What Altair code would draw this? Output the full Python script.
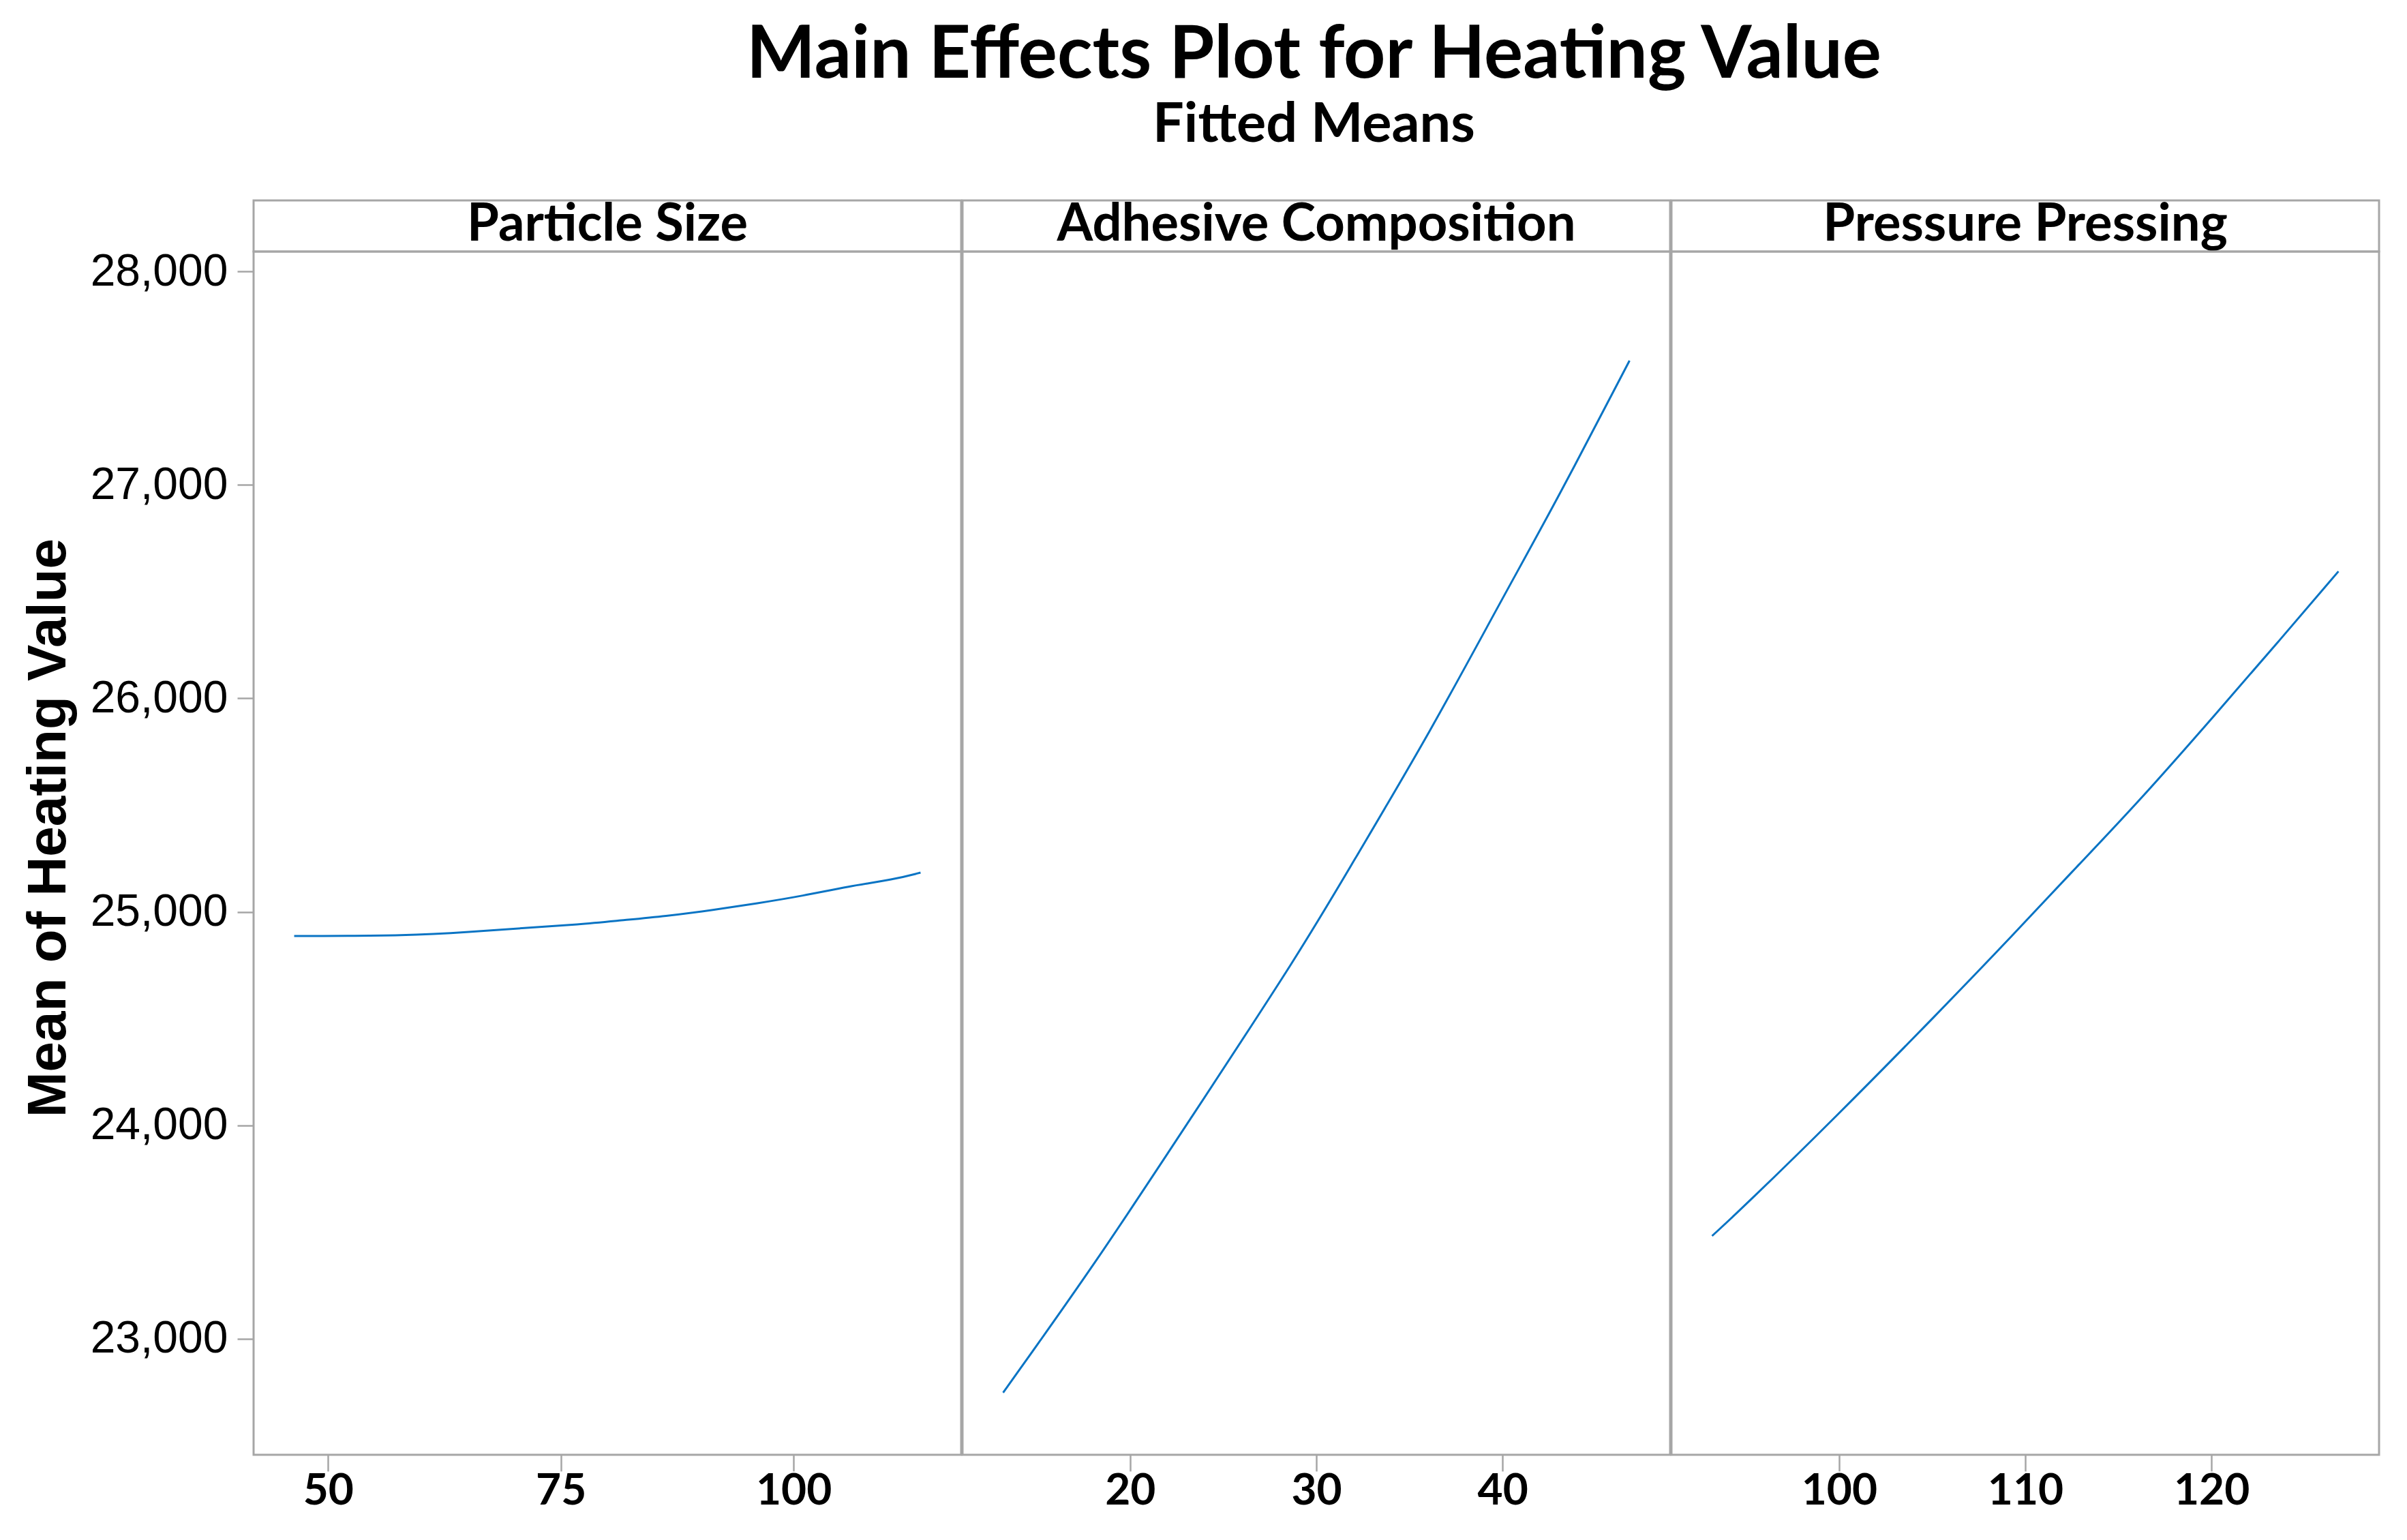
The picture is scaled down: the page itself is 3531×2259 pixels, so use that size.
import altair as alt
import pandas as pd

# ---- data ----
factors = ["Particle Size", "Adhesive Composition", "Pressure Pressing"]

particle_x = [46.36, 58.8, 65.2, 71.1, 77.0, 81.4, 86.3, 91.2, 96.1, 101.0, 105.9, 110.8, 113.64]
particle_y = [24887, 24888, 24906, 24925, 24941, 24960, 24980, 25008, 25040, 25075, 25120, 25152, 25184]

adhesive_x = [13.18, 18.22, 22.97, 29.17, 32.09, 36.1, 40.0, 42.9, 46.82]
adhesive_y = [22748, 23364, 23995, 24817, 25251, 25840, 26470, 26925, 27582]

pressure_x = [93.18, 94.97, 99.7, 105.43, 109.4, 112.4, 116.1, 120.37, 123.6, 126.82]
pressure_y = [23482, 23626, 24028, 24536, 24897, 25178, 25516, 25941, 26266, 26595]

x_domains = [[42, 118], [11, 49], [91, 129]]
x_ticks = [[50, 75, 100], [20, 30, 40], [100, 110, 120]]
y_ticks = [23000, 24000, 25000, 26000, 27000, 28000]
y_domain = [22457, 28093]

series = [(particle_x, particle_y), (adhesive_x, adhesive_y), (pressure_x, pressure_y)]

# ---- style ----
BLUE = "#0A74C4"
GRAY = "#A6A6A6"
W = 1038
H = 1765
SH = 75
SEG = "Lato"
ARIAL = "Liberation Sans"


def panel(i):
    xs, ys = series[i]
    df = pd.DataFrame({"x": xs, "y": ys})
    if i == 0:
        yaxis = alt.Axis(
            values=y_ticks, format=",d", title="Mean of Heating Value",
            domain=False, grid=False, tickSize=24, tickWidth=2.5, tickColor=GRAY,
            labelFont=ARIAL, labelFontSize=66, labelColor="black", labelPadding=14,
            labelLimit=600,
            titleFont=ARIAL, titleFontSize=80, titleFontWeight="bold", titleColor="black",
            titleX=-277, titleY=(H - SH) / 2, titleBaseline="alphabetic", titleAngle=270,
            titleAlign="center",
        )
    else:
        yaxis = None
    xaxis = alt.Axis(
        values=x_ticks[i], title=None, domain=False, grid=False,
        tickSize=24, tickWidth=2.5, tickColor=GRAY,
        labelFont=SEG, labelFontSize=64, labelFontWeight="bold", labelColor="black",
        labelPadding=-3,
    )
    plot = alt.Chart(df).mark_line(color=BLUE, strokeWidth=3, interpolate="basis").encode(
        x=alt.X("x:Q", scale=alt.Scale(domain=x_domains[i], nice=False, zero=False), axis=xaxis),
        y=alt.Y("y:Q", scale=alt.Scale(domain=y_domain, nice=False, zero=False), axis=yaxis),
    ).properties(width=W, height=H)
    strip = alt.Chart(pd.DataFrame({"f": [factors[i]]})).mark_text(
        font=SEG, fontSize=76, fontWeight="bold", color="black", baseline="middle", align="center"
    ).encode(
        text="f:N", x=alt.value(W / 2), y=alt.value(SH / 2 - 2)
    ).properties(width=W, height=SH)
    return alt.vconcat(strip, plot, spacing=0, bounds="flush")


chart = alt.hconcat(*[panel(i) for i in range(3)], spacing=-3).properties(
    title=alt.Title(
        text="Main Effects Plot for Heating Value",
        subtitle="Fitted Means",
        font=SEG, fontSize=107, fontWeight="bold", color="black",
        subtitleFont=SEG, subtitleFontSize=81, subtitleFontWeight="bold", subtitleColor="black",
        subtitlePadding=8, anchor="middle", offset=65, dx=167,
    ),
    padding={"left": 21, "top": 20, "right": 30, "bottom": 20},
    background="white",
).configure_view(stroke=GRAY, strokeWidth=3)

chart.save("out.html", embed_options={"renderer": "svg", "actions": False})
